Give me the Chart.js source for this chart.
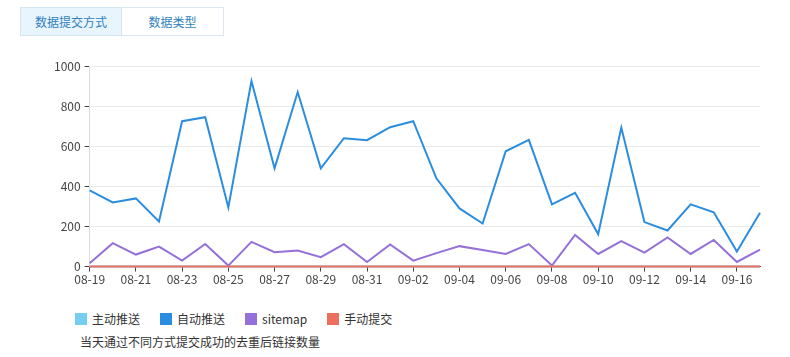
<!DOCTYPE html>
<html><head><meta charset="utf-8">
<script src="https://cdn.jsdelivr.net/npm/chart.js@4/dist/chart.umd.min.js"></script>
<style>
html,body{margin:0;padding:0;background:#fff;width:790px;height:357px;overflow:hidden;font-family:"Noto Sans CJK SC","Noto Sans",sans-serif;}
.tabs{position:absolute;left:20px;top:7px;height:28px;display:flex;}
.tab{box-sizing:border-box;width:102px;height:29px;border:1px solid #dce6ee;font-size:12px;line-height:27px;text-align:center;color:#2f7fbd;background:#fff;}
.tab.active{background:#e9f5fd;border-color:#d3e6f3;}
.tab+.tab{border-left:none;}
#wrap{position:absolute;left:0;top:50px;width:790px;height:238px;}
#legend{position:absolute;left:75px;top:310px;display:flex;font-size:12px;color:#333;}
.li{display:flex;align-items:center;margin-right:20px;}
.sw{width:12px;height:12px;margin-right:5px;}
#sub{position:absolute;left:80px;top:333px;font-size:12px;color:#333;}
</style></head><body>
<div class="tabs"><div class="tab active">数据提交方式</div><div class="tab">数据类型</div></div>
<div id="wrap"><canvas id="c"></canvas></div>
<div id="legend"></div>
<div id="sub">当天通过不同方式提交成功的去重后链接数量</div>
<script>
const categories = ["08-19","08-20","08-21","08-22","08-23","08-24","08-25","08-26","08-27","08-28","08-29","08-30","08-31","09-01","09-02","09-03","09-04","09-05","09-06","09-07","09-08","09-09","09-10","09-11","09-12","09-13","09-14","09-15","09-16","09-17"];
const activePush = [0,0,0,0,0,0,0,0,0,0,0,0,0,0,0,0,0,0,0,0,0,0,0,0,0,0,0,0,0,0];
const autoPush = [380,320,340,225,725,745,295,925,490,870,490,640,630,695,725,440,290,215,575,632,310,368,162,693,222,180,310,271,75,268];
const sitemap = [17,117,60,100,30,113,5,123,72,80,47,112,23,110,30,67,102,83,63,112,5,158,63,127,70,145,63,133,23,85];
const manual = [0,0,0,0,0,0,0,0,0,0,0,0,0,0,0,0,0,0,0,0,0,0,0,0,0,0,0,0,0,0];
const yTicks = [0,200,400,600,800,1000];
const seriesNames = ["主动推送","自动推送","sitemap","手动提交"];
const colors = ["#76cdf2","#2b8de0","#9470d8","#ef6f5e"];

const font = {family:'"Noto Sans CJK SC","Noto Sans",sans-serif', size:12};
const ds = [activePush, autoPush, sitemap, manual].map((d,i)=>({
  label: seriesNames[i], data: d, borderColor: colors[i], backgroundColor: colors[i],
  borderWidth: 2, pointRadius: 0, tension: 0, fill: false, clip: false
}));
ds[3].order = 0; ds[0].order = 3; ds[1].order = 1; ds[2].order = 2;

new Chart(document.getElementById('c'), {
  type: 'line',
  data: {labels: categories, datasets: ds},
  options: {
    responsive: true, maintainAspectRatio: false, animation: false,
    layout: {padding: {left: 50, right: 30, top: 16, bottom: 0}},
    plugins: {legend: {display: false}, tooltip: {enabled: false}},
    scales: {
      x: {
        offset: false,
        grid: {drawOnChartArea: false, drawTicks: true, tickLength: 5, tickColor: '#444'},
        border: {color: '#555'},
        ticks: {autoSkip: false, maxRotation: 0, color: '#444', font: font, padding: 1,
          callback: function(v, i){ return i % 2 === 0 ? categories[i] : null; }}
      },
      y: {
        min: 0, max: 1000,
        afterBuildTicks: ax => { ax.ticks = yTicks.map(v => ({value: v})); },
        grid: {color: '#ebebeb', tickLength: 5, tickColor: '#444'},
        border: {color: '#ddd'},
        ticks: {color: '#444', font: font, padding: 4, callback: v => String(v)}
      }
    }
  }
});

const lg = document.getElementById('legend');
seriesNames.forEach((n,i)=>{
  const d = document.createElement('div'); d.className='li';
  d.innerHTML = '<span class="sw" style="background:'+colors[i]+'"></span>'+n;
  lg.appendChild(d);
});
</script>
</body></html>
